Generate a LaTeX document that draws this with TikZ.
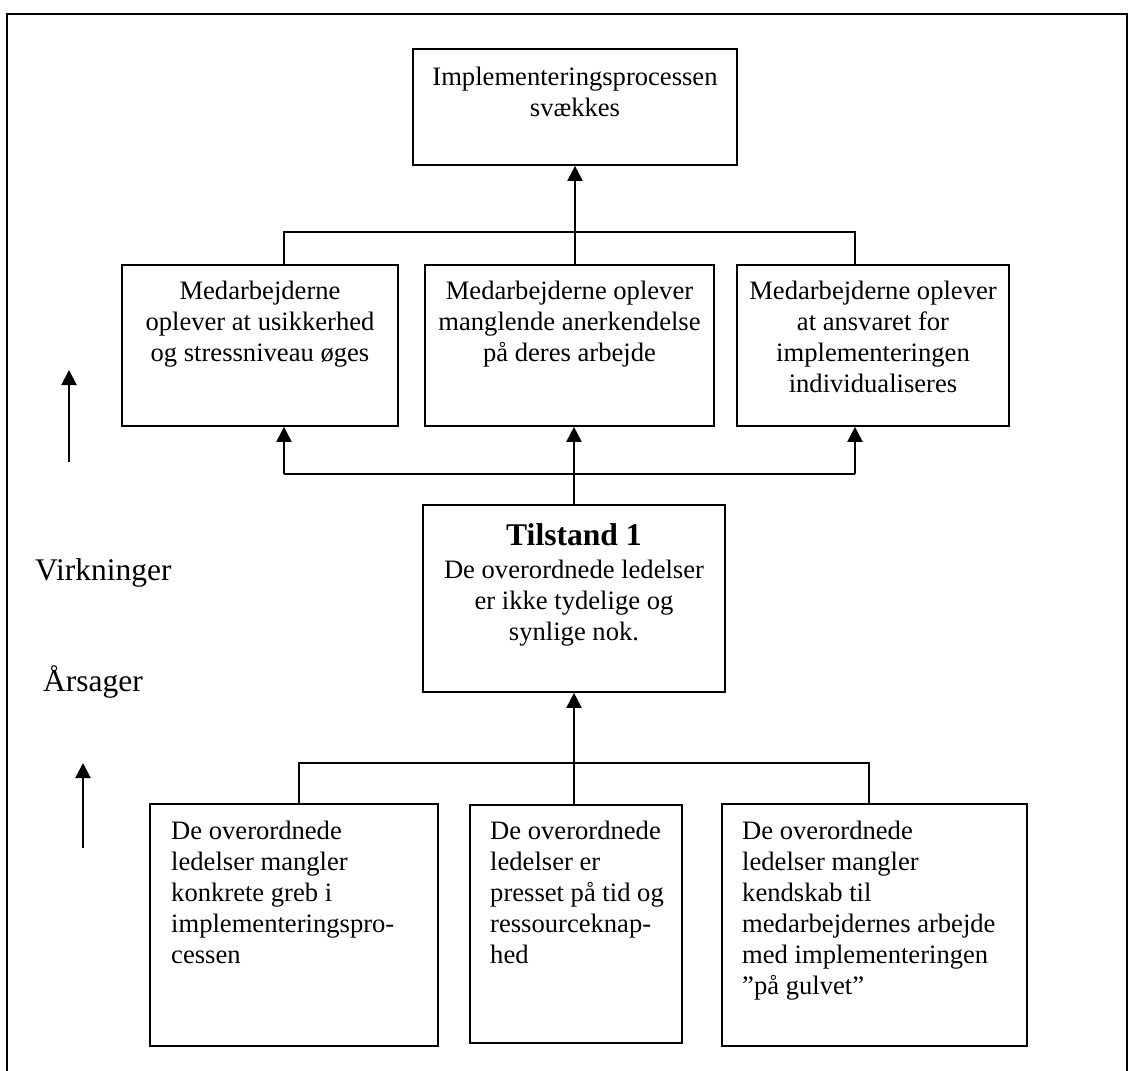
\documentclass[tikz,border=0pt]{standalone}
\usepackage{fontspec}
\setmainfont{Liberation Serif}
\usetikzlibrary{arrows.meta}
\newcommand\boxfont{\fontsize{26.6}{31}\selectfont}
\newcommand\sidefont{\fontsize{31.5}{36}\selectfont}
\begin{document}
\begin{tikzpicture}[x=1pt,y=-1pt,
  box/.style={draw,line width=1.7pt,rectangle,inner sep=0pt},
  ctext/.style={align=center,inner sep=0pt,anchor=north,font=\boxfont},
  ltext/.style={align=left,inner sep=0pt,anchor=north west,font=\boxfont},
  link/.style={line width=1.5pt},
  conn/.style={line width=2pt},
  arr/.style={line width=2pt,-{Triangle[length=15pt,width=15pt]}},
  frame/.style={line width=2pt}]
\useasboundingbox (0,0) rectangle (1128,1071);

% outer frame
\draw[frame] (7,1071) -- (7,14) -- (1126.5,14) -- (1126.5,1071);

% boxes
\node[box,minimum width=324pt,minimum height=116pt] (top) at (575,107) {};
\node[box,minimum width=276pt,minimum height=161pt] (m1) at (260,345.5) {};
\node[box,minimum width=289pt,minimum height=161pt] (m2) at (569.5,345.5) {};
\node[box,minimum width=272pt,minimum height=161pt] (m3) at (873,345.5) {};
\node[box,minimum width=302pt,minimum height=187pt] (T) at (574,598.5) {};
\node[box,minimum width=288pt,minimum height=242pt] (b1) at (294,925) {};
\node[box,minimum width=212pt,minimum height=238pt] (b2) at (576,924) {};
\node[box,minimum width=305pt,minimum height=242pt] (b3) at (874.5,925) {};

% box texts
\node[ctext] (topt) at ([yshift=-19pt]top.north) {Implementeringsprocessen\\svækkes};
\node[ctext] (m1t) at ([yshift=-17pt]m1.north) {Medarbejderne\\oplever at usikkerhed\\og stressniveau øges};
\node[ctext] (m2t) at ([yshift=-17pt]m2.north) {Medarbejderne oplever\\manglende anerkendelse\\på deres arbejde};
\node[ctext] (m3t) at ([yshift=-17pt]m3.north) {Medarbejderne oplever\\at ansvaret for\\implementeringen\\individualiseres};
\node[ctext] (Tt) at ([yshift=-19pt]T.north) {{\bfseries\fontsize{31.6}{34}\selectfont Tilstand 1}\\[2pt]De overordnede ledelser\\er ikke tydelige og\\synlige nok.};
\node[ltext] (b1t) at (171,821) {De overordnede\\ledelser mangler\\konkrete greb i\\implementeringspro-\\cessen};
\node[ltext] (b2t) at (490,821) {De overordnede\\ledelser er\\presset på tid og\\ressourceknap-\\hed};
\node[ltext] (b3t) at (742,821) {De overordnede\\ledelser mangler\\kendskab til\\medarbejdernes arbejde\\med implementeringen\\”på gulvet”};

% junction points
\coordinate (j1l) at (284,232);
\coordinate (j1r) at (855,232);
\coordinate (j2l) at (284,474);
\coordinate (j2r) at (855,474);
\coordinate (j3l) at (299,763);
\coordinate (j3r) at (869,763);

% effects -> top
\draw[link] (j1l |- m1.north) -- (j1l) -- (j1r) -- (j1r |- m3.north);
\draw[arr] (top.south |- m2.north) -- (top.south);

% state -> effects
\draw[conn] (j2l) -- (j2r);
\draw[arr] (j2l) -- (j2l |- m1.south);
\draw[arr] (j2r) -- (j2r |- m3.south);
\draw[arr] (T.north) -- (T.north |- m2.south);

% causes -> state
\draw[link] (j3l |- b1.north) -- (j3l) -- (j3r) -- (j3r |- b3.north);
\draw[arr] (T.south |- b2.north) -- (T.south);

% side labels and arrows
\coordinate (ua0) at (69,462);
\coordinate (ua1) at (69,370);
\coordinate (la0) at (83,848);
\coordinate (la1) at (83,763);
\draw[arr] (ua0) -- (ua1);
\draw[arr] (la0) -- (la1);
\node[anchor=base west,inner sep=0pt,font=\sidefont] (virk) at (35,580) {Virkninger};
\node[anchor=base west,inner sep=0pt,font=\sidefont] (aars) at (43,691) {Årsager};
\end{tikzpicture}
\end{document}
